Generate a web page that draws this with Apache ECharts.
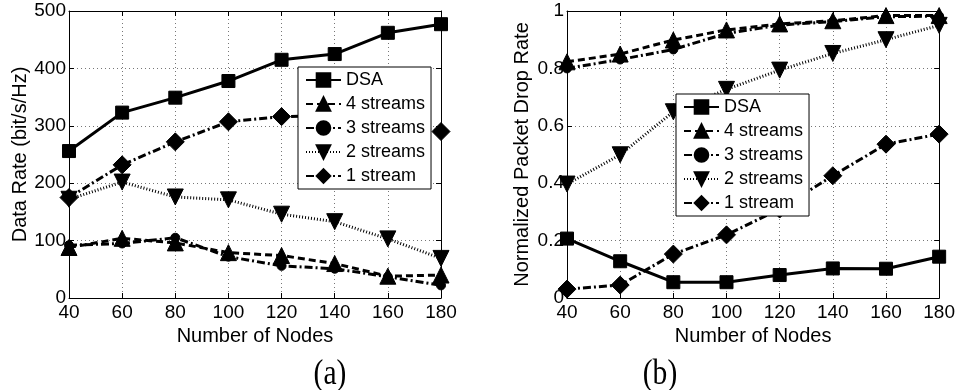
<!DOCTYPE html>
<html>
<head>
<meta charset="utf-8">
<script src="https://cdn.jsdelivr.net/npm/echarts@6/dist/echarts.min.js"></script>
<style>
html,body{margin:0;padding:0;background:#fff;}
#c{width:958px;height:390px;}
</style>
</head>
<body>
<div id="c"></div>
<script>
// ---- data ----
var nodes = [40, 60, 80, 100, 120, 140, 160, 180];
var seriesNames = ['DSA', '4 streams', '3 streams', '2 streams', '1 stream'];

// (a) Data Rate (bit/s/Hz)
var rateDSA = [256, 323, 349, 378, 415, 425, 462, 477];
var rate4 = [88, 104, 96, 79, 74, 60, 38, 40];
var rate3 = [92, 95, 105, 72, 56, 51, 37, 22];
var rate2 = [172, 202, 176, 171, 146, 133, 103, 69];
var rate1 = [175, 232, 272, 307, 316, 318, 305, 290];

// (b) Normalized Packet Drop Rate
var dropDSA = [0.207, 0.128, 0.055, 0.055, 0.080, 0.103, 0.102, 0.144];
var drop4 = [0.823, 0.850, 0.899, 0.934, 0.955, 0.966, 0.984, 0.984];
var drop3 = [0.800, 0.831, 0.866, 0.922, 0.951, 0.963, 0.980, 0.982];
var drop2 = [0.397, 0.499, 0.649, 0.727, 0.794, 0.852, 0.900, 0.950];
var drop1 = [0.031, 0.045, 0.153, 0.220, 0.310, 0.426, 0.536, 0.571];

var xTicks = {min: 40, max: 180, interval: 20};
var rateTicks = {min: 0, max: 500, interval: 100};
var dropTicks = {min: 0, max: 1, interval: 0.2};

// ---- styles ----
var FONT = 'Liberation Sans';
var styles = [
  {symbol: 'rect', size: 13, rotate: 0, type: 'solid', width: 3},
  {symbol: 'triangle', size: 16, rotate: 0, type: [7, 4], width: 3},
  {symbol: 'circle', size: 9, rotate: 0, type: [8, 3, 2, 3], width: 3},
  {symbol: 'triangle', size: 16, rotate: 180, type: [1, 2], width: 3},
  {symbol: 'diamond', size: 18, rotate: 0, type: [8, 3, 2, 3], width: 3}
];

function pairs(arr) { return nodes.map(function (x, i) { return [x, arr[i]]; }); }

function mkSeries(idx, xi, yi, arr) {
  var s = styles[idx];
  return {
    type: 'line', name: seriesNames[idx], xAxisIndex: xi, yAxisIndex: yi,
    data: pairs(arr), symbol: s.symbol, symbolSize: s.size, symbolRotate: s.rotate,
    showAllSymbol: true,
    lineStyle: {color: '#000', width: s.width, type: s.type},
    itemStyle: {color: '#000', borderColor: '#000', borderWidth: 1},
    emphasis: {disabled: true}, z: 2, zlevel: 0
  };
}

var gridLine = {show: true, lineStyle: {color: '#777', width: 1, type: [1, 3]}};
function mainX(gi) {
  return {
    type: 'value', gridIndex: gi, min: xTicks.min, max: xTicks.max, interval: xTicks.interval,
    name: 'Number of Nodes', nameLocation: 'middle', nameGap: 26,
    nameTextStyle: {fontFamily: FONT, fontSize: 20, color: '#000'},
    axisLine: {show: true, onZero: false, lineStyle: {color: '#000', width: 1}},
    axisTick: {show: true, inside: true, length: 5, lineStyle: {color: '#000'}},
    axisLabel: {fontFamily: FONT, fontSize: 19, color: '#000', margin: 5},
    splitLine: gridLine
  };
}
function topX(gi) {
  return {
    type: 'value', gridIndex: gi, position: 'top', min: xTicks.min, max: xTicks.max, interval: xTicks.interval,
    axisLine: {show: true, onZero: false, lineStyle: {color: '#000', width: 1}},
    axisTick: {show: true, inside: true, length: 5, lineStyle: {color: '#000'}},
    axisLabel: {show: false}, splitLine: {show: false}
  };
}
function mainY(gi, t, name, gap, fmt) {
  return {
    type: 'value', gridIndex: gi, min: t.min, max: t.max, interval: t.interval,
    name: name, nameLocation: 'middle', nameGap: gap, nameRotate: 90,
    nameTextStyle: {fontFamily: FONT, fontSize: 20, color: '#000'},
    axisLine: {show: true, onZero: false, lineStyle: {color: '#000', width: 1}},
    axisTick: {show: true, inside: true, length: 5, lineStyle: {color: '#000'}},
    axisLabel: {fontFamily: FONT, fontSize: 19, color: '#000', margin: 3, formatter: fmt},
    splitLine: gridLine
  };
}
function rightY(gi, t) {
  return {
    type: 'value', gridIndex: gi, position: 'right', min: t.min, max: t.max, interval: t.interval,
    axisLine: {show: true, onZero: false, lineStyle: {color: '#000', width: 1}},
    axisTick: {show: true, inside: true, length: 5, lineStyle: {color: '#000'}},
    axisLabel: {show: false}, splitLine: {show: false}
  };
}
function mkLegend(left, top) {
  return {
    orient: 'vertical', left: left, top: top, data: seriesNames,
    itemWidth: 35, itemHeight: 17, itemGap: 6,
    backgroundColor: '#fff', borderColor: '#000', borderWidth: 1, borderRadius: 0,
    padding: [4, 6, 4, 7], selectedMode: false, z: 20, zlevel: 0,
    textStyle: {fontFamily: FONT, fontSize: 18, color: '#000', lineHeight: 18}
  };
}

var chart = echarts.init(document.getElementById('c'), null, {renderer: 'canvas'});
var rateArrs = [rateDSA, rate4, rate3, rate2, rate1];
var dropArrs = [dropDSA, drop4, drop3, drop2, drop1];
var series = [];
rateArrs.forEach(function (a, i) { series.push(mkSeries(i, 0, 0, a)); });
dropArrs.forEach(function (a, i) { series.push(mkSeries(i, 2, 2, a)); });

chart.setOption({
  animation: false,
  backgroundColor: '#fff',
  grid: [
    {left: 69, top: 11, width: 372, height: 287, show: false},
    {left: 567, top: 11, width: 373, height: 287, show: false}
  ],
  xAxis: [mainX(0), topX(0), mainX(1), topX(1)],
  yAxis: [
    mainY(0, rateTicks, 'Data Rate (bit/s/Hz)', 39, null),
    rightY(0, rateTicks),
    mainY(1, dropTicks, 'Normalized Packet Drop Rate', 35, function (v) { return String(Math.round(v * 10) / 10); }),
    rightY(1, dropTicks)
  ],
  legend: [mkLegend(298, 67), mkLegend(676, 94)],
  series: series,
  graphic: [
    {type: 'text', x: 330, y: 375, scaleX: 0.82, style: {text: '(a)', font: '36px "Liberation Serif"', fill: '#000', textAlign: 'center', textVerticalAlign: 'middle'}},
    {type: 'text', x: 660, y: 375, scaleX: 0.82, style: {text: '(b)', font: '36px "Liberation Serif"', fill: '#000', textAlign: 'center', textVerticalAlign: 'middle'}}
  ]
});
</script>
</body>
</html>
